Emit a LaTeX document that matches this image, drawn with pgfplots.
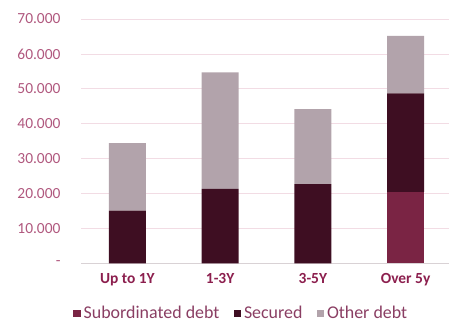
\documentclass[border=0pt]{standalone}
\usepackage{pgfplots}
\pgfplotsset{compat=1.18}
\usepackage{fontspec}
\setmainfont{Carlito}
\definecolor{subc}{HTML}{7A2444}
\definecolor{secc}{HTML}{3E0E22}
\definecolor{othc}{HTML}{B2A3AB}
\definecolor{gridc}{HTML}{F2DCE4}
\definecolor{axc}{HTML}{D9D2D5}
\definecolor{ytc}{HTML}{B0587E}
\definecolor{xtc}{HTML}{8C1F4E}
\definecolor{legc}{HTML}{8A3E63}
\begin{document}
\begin{tikzpicture}
\useasboundingbox (-81bp,-60.7bp) rectangle (368bp,263.3bp);
\begin{axis}[
  at={(0,0)}, anchor=south west,
  scale only axis, width=371bp, height=244.3bp,
  ybar stacked, bar width=37bp,
  xmin=-0.5, xmax=3.5, ymin=0, ymax=70000,
  scaled y ticks=false,
  xtick={0,1,2,3}, xticklabels={Up to 1Y,1-3Y,3-5Y,Over 5y},
  ytick={0,10000,20000,30000,40000,50000,60000,70000},
  yticklabels={-,10.000,20.000,30.000,40.000,50.000,60.000,70.000},
  /pgf/number format/assume math mode=true,
  major tick length=0,
  axis x line*=bottom, axis y line*=left,
  y axis line style={draw=none},
  x axis line style={draw=axc, line width=0.8bp},
  ymajorgrids, grid style={draw=gridc, line width=0.8bp},
  yticklabel style={font=\fontsize{15.5}{18}\selectfont, text=ytc, xshift=-17bp},
  xticklabel style={font=\fontsize{15.5}{18}\selectfont\bfseries, text=xtc, yshift=-7bp},
  legend columns=3,
  legend style={at={(0,0)}, anchor=west, xshift=-11bp, yshift=-50bp, draw=none, fill=none,
    font=\fontsize{18}{21}\selectfont, text=legc,
    /tikz/every odd column/.append style={column sep=1bp},
    /tikz/every even column/.append style={column sep=12bp}},
  legend image code/.code={\fill[#1] (0bp,-3.8bp) rectangle (7.5bp,3.7bp);},
]
\addplot[fill=subc, draw=none] coordinates {(0,0) (1,0) (2,0) (3,20500)};
\addplot[fill=secc, draw=none] coordinates {(0,15100) (1,21300) (2,22700) (3,28200)};
\addplot[fill=othc, draw=none] coordinates {(0,19300) (1,33400) (2,21500) (3,16500)};
\legend{Subordinated debt,Secured,Other debt}
\end{axis}
\end{tikzpicture}
\end{document}
